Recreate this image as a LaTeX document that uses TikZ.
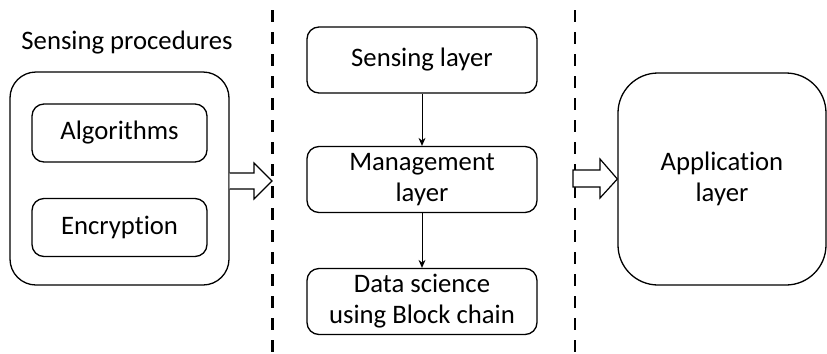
\documentclass[tikz,border=0pt]{standalone}
\usepackage{fontspec}
\setmainfont[Ligatures=NoCommon]{Carlito}
\usetikzlibrary{calc,arrows.meta}
\begin{document}
\begin{tikzpicture}[x=1bp,y=-1bp,
  every node/.style={font=\fontsize{26.8}{31}\selectfont, align=center, inner sep=0pt},
  outerbox/.style={draw, line width=1.3bp, rounded corners=26bp},
  innerbox/.style={draw, line width=1.3bp, rounded corners=12bp, minimum width=175bp, minimum height=58bp},
  layerbox/.style={draw, line width=1.3bp, rounded corners=12bp, minimum width=230bp, minimum height=66bp},
  divider/.style={line width=2.8bp, dash pattern=on 12bp off 10bp},
  thinarrow/.style={-{Stealth[length=8bp,width=7bp]}, line width=0.9bp},
  blockarrow/.style={draw, line width=1.2bp, fill=white, line join=miter}]
\useasboundingbox (0,0) rectangle (827,353);

% dividers
\coordinate (d1top) at (272.5,10);
\coordinate (d1bot) at (272.5,353);
\coordinate (d2top) at (575,10);
\coordinate (d2bot) at (575,353);
\draw[divider] (d1top) -- (d1bot);
\draw[divider] (d2top) -- (d2bot);

% left group
\node (title) at (127,43) {Sensing procedures};
\node[outerbox, minimum width=219bp, minimum height=213bp] (outer) at (119.5,178.5) {};
\node[innerbox] (alg) at (119.5,133) {Algorithms};
\node[innerbox] (enc) at (119.5,227.5) {Encryption};

% middle column
\node[layerbox] (sense) at (422,60) {Sensing layer};
\node[layerbox] (manage) at (422,179.5) {Management\\layer};
\node[layerbox] (data) at (422,301.5) {Data science\\using Block chain};
\draw[thinarrow] (sense) -- (manage);
\draw[thinarrow] (manage) -- (data);

% right box
\node[outerbox, rounded corners=40bp, minimum width=208bp, minimum height=212bp] (app) at (722,179) {Application\\layer};

% block arrows
\coordinate (tip1) at (272,181);
\draw[blockarrow] ($(outer.east)+(0,-5.5)$) -- (254,173) -- (254,163) -- (tip1) -- (254,199) -- (254,189) -- ($(outer.east)+(0,10.5)$);
\coordinate (s2) at (573,178);
\draw[blockarrow] ($(s2)+(0,-8)$) -- (600,170) -- (600,159) -- (app.west) -- (600,198) -- (600,187) -- ($(s2)+(0,9)$) -- cycle;
\end{tikzpicture}
\end{document}
